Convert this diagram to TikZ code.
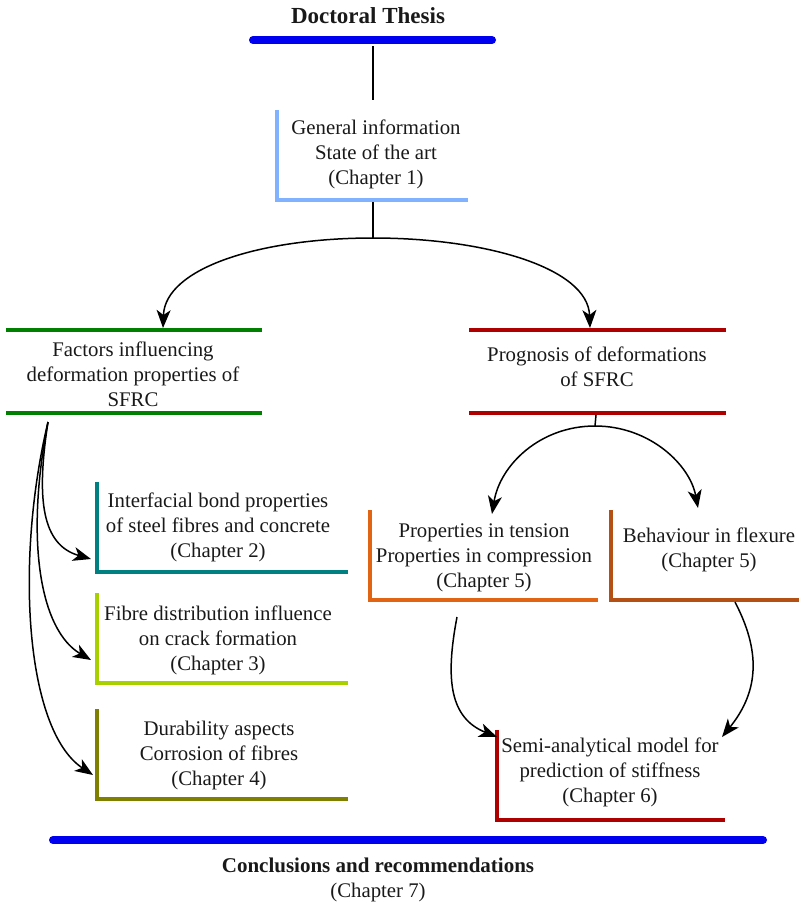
\documentclass[tikz,border=0pt]{standalone}
\usepackage{fontspec}
\setmainfont{Liberation Serif}
\usetikzlibrary{arrows.meta}
\definecolor{cBlue}{RGB}{0,0,240}
\definecolor{cLight}{RGB}{128,178,255}
\definecolor{cGreen}{RGB}{0,128,0}
\definecolor{cRed}{RGB}{175,0,0}
\definecolor{cTeal}{RGB}{0,128,128}
\definecolor{cLime}{RGB}{168,208,0}
\definecolor{cOlive}{RGB}{128,128,0}
\definecolor{cOrange}{RGB}{225,100,20}
\definecolor{cBrown}{RGB}{180,80,20}
\begin{document}
\begin{tikzpicture}[x=1pt,y=-1pt,
  txt/.style={align=center,font=\fontsize{20.8}{25}\selectfont,inner sep=0pt,text=black!90},
  bar/.style={line width=8pt,line cap=round,cBlue},
  frame/.style={line width=4pt},
  conn/.style={line width=1.5pt,-{Stealth[length=18pt,width=14pt,inset=5pt]}},
  plain/.style={line width=1.5pt}]
\useasboundingbox (0,0) rectangle (799,906);

% title
\node[txt,font=\bfseries\fontsize{23}{27}\selectfont] (title) at (368,16) {Doctoral Thesis};
\draw[bar] (253,40) -- (492,40);
\coordinate (topbar) at (373,46);

% general info
\coordinate (genin) at (373,100);
\draw[frame,cLight] (277,110) |- (468,200);
\node[txt] (gen) at (376,154) {General information\\State of the art\\(Chapter 1)};
\coordinate (genout) at (373,202);
\coordinate (fork1) at (373,238);
\draw[plain] (topbar) -- (genin);
\draw[plain] (genout) -- (fork1);

% factors
\draw[frame,cGreen] (6,330) -- (262,330);
\draw[frame,cGreen] (6,413) -- (262,413);
\node[txt] (fac) at (133,374) {Factors influencing\\deformation properties of\\SFRC};
\coordinate (facin) at (163,328);

% prognosis
\draw[frame,cRed] (469,330) -- (726,330);
\draw[frame,cRed] (469,413) -- (726,413);
\node[txt] (prog) at (597,367) {Prognosis of deformations\\of SFRC};
\coordinate (progin) at (590,328);

\draw[conn] (fork1) .. controls (260,238) and (165,268) .. (facin);
\draw[conn] (fork1) .. controls (486,238) and (588,268) .. (progin);

% left column boxes
\draw[frame,cTeal] (97,482) |- (348,572);
\node[txt] (int) at (218,527) {Interfacial bond properties\\of steel fibres and concrete\\(Chapter 2)};
\draw[frame,cLime] (97,593) |- (348,683);
\node[txt] (fib) at (218,640) {Fibre distribution influence\\on crack formation\\(Chapter 3)};
\draw[frame,cOlive] (97,709) |- (348,799);
\node[txt] (dur) at (219,755) {Durability aspects\\Corrosion of fibres\\(Chapter 4)};

\coordinate (facout) at (48,422);
\coordinate (intin) at (91,559);
\coordinate (fibin) at (91,660);
\coordinate (durin) at (93,775);
\draw[conn] (facout) .. controls (36,500) and (42,545) .. (intin);
\draw[conn] (facout) .. controls (25,540) and (40,630) .. (fibin);
\draw[conn] (facout) .. controls (15,560) and (25,730) .. (durin);

% prognosis children
\coordinate (progout) at (596,415);
\coordinate (fork2) at (595,426);
\draw[plain] (progout) -- (fork2);
\coordinate (tenin) at (492,514);
\coordinate (flexin) at (698,508);
\draw[conn] (fork2) .. controls (540,426) and (500,465) .. (tenin);
\draw[conn] (fork2) .. controls (650,426) and (690,465) .. (flexin);

\draw[frame,cOrange] (370,510) |- (598,600);
\node[txt] (ten) at (484,558) {Properties in tension\\Properties in compression\\(Chapter 5)};
\draw[frame,cBrown] (611,510) |- (799,600);
\node[txt] (flex) at (709,550) {Behaviour in flexure\\(Chapter 5)};

% semi-analytical
\draw[frame,cRed] (497,730) |- (725,820);
\node[txt] (semi) at (610,772) {Semi-analytical model for\\prediction of stiffness\\(Chapter 6)};

\coordinate (tenout) at (457,617);
\coordinate (flexout) at (735,602);
\coordinate (semiinL) at (497,737);
\coordinate (semiinR) at (722,737);
\draw[conn] (tenout) .. controls (445,680) and (450,718) .. (semiinL);
\draw[conn] (flexout) .. controls (760,650) and (760,690) .. (semiinR);

% conclusions
\draw[bar] (53,840) -- (763,840);
\node[txt] (concl) at (378,880) {{\bfseries\fontsize{21}{25}\selectfont Conclusions and recommendations}\\(Chapter 7)};
\end{tikzpicture}
\end{document}
